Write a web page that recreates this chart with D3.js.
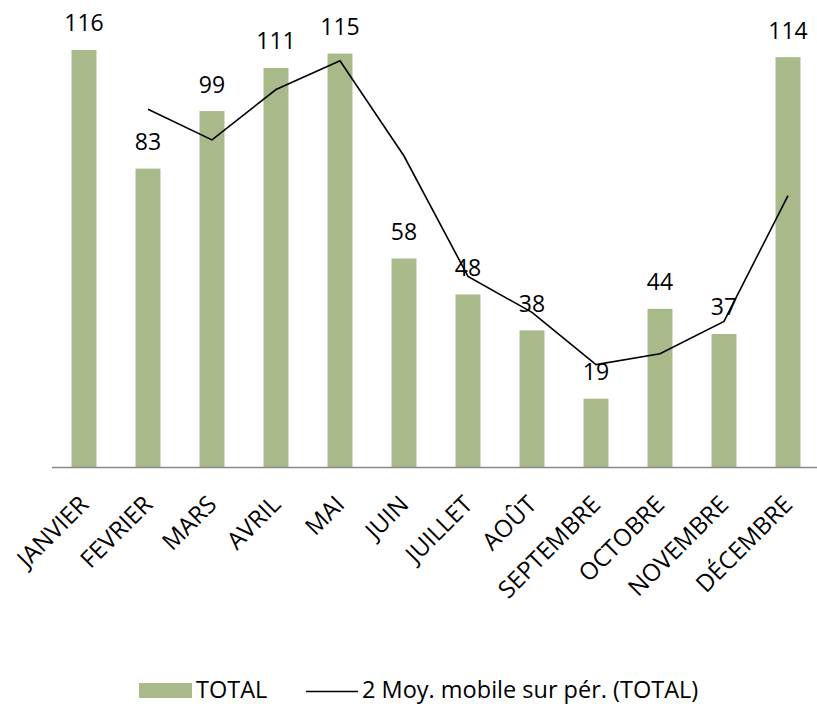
<!DOCTYPE html>
<html>
<head>
<meta charset="utf-8">
<script src="https://cdn.jsdelivr.net/npm/d3@7"></script>
<style>
  html, body { margin: 0; padding: 0; background: #fff; }
  svg { display: block; }
  text { font-family: "Open Sans", Lato, sans-serif; fill: #000; }
</style>
</head>
<body>
<svg id="chart" width="817" height="704"></svg>
<script>
const months = ["JANVIER","FEVRIER","MARS","AVRIL","MAI","JUIN","JUILLET","AOÛT","SEPTEMBRE","OCTOBRE","NOVEMBRE","DÉCEMBRE"];
const totals = [116, 83, 99, 111, 115, 58, 48, 38, 19, 44, 37, 114];
const movingAvg = [null, 99.5, 91, 105, 113, 86.5, 53, 43, 28.5, 31.5, 40.5, 75.5];
const legendLabels = ["TOTAL", "2 Moy. mobile sur pér. (TOTAL)"];

const svg = d3.select("#chart");
const baseY = 467;
const x = d3.scaleBand().domain(months).range([52, 820]).paddingInner(0.61).paddingOuter(0.305);
const y = d3.scaleLinear().domain([0, 120]).range([baseY, baseY - 120 * 3.595]);
const barColor = "#A9BA8A";

// bars
svg.append("g").selectAll("rect").data(totals).join("rect")
  .attr("x", (d, i) => x(months[i]))
  .attr("y", d => y(d))
  .attr("width", x.bandwidth())
  .attr("height", d => baseY - y(d))
  .attr("fill", barColor);

// axis line
svg.append("line").attr("x1", 52).attr("x2", 820).attr("y1", baseY + 0.5).attr("y2", baseY + 0.5)
  .attr("stroke", "#898989").attr("stroke-width", 1.3);

// moving average line
const cx = m => x(m) + x.bandwidth() / 2;
const line = d3.line().defined(d => d != null).x((d, i) => cx(months[i])).y(d => y(d));
svg.append("path").datum(movingAvg).attr("d", line)
  .attr("fill", "none").attr("stroke", "#000").attr("stroke-width", 1.6).attr("stroke-linejoin", "miter");

// value labels
svg.append("g").selectAll("text").data(totals).join("text")
  .attr("x", (d, i) => cx(months[i]))
  .attr("y", d => y(d) - 18.5)
  .attr("text-anchor", "middle")
  .attr("font-size", 23)
  .text(d => d);

// x labels
svg.append("g").selectAll("text").data(months).join("text")
  .attr("transform", m => `translate(${cx(m) + 6},${baseY + 39}) rotate(-45)`)
  .attr("text-anchor", "end")
  .attr("font-size", 24)
  .text(m => m);

// legend
const lg = svg.append("g");
lg.append("rect").attr("x", 139).attr("y", 683).attr("width", 53).attr("height", 15).attr("fill", barColor);
lg.append("text").attr("x", 196).attr("y", 698).attr("font-size", 23.5).text(legendLabels[0]);
lg.append("line").attr("x1", 306).attr("x2", 358).attr("y1", 691.5).attr("y2", 691.5).attr("stroke", "#000").attr("stroke-width", 1.6);
lg.append("text").attr("x", 362).attr("y", 698).attr("font-size", 23.5).text(legendLabels[1]);
</script>
</body>
</html>
